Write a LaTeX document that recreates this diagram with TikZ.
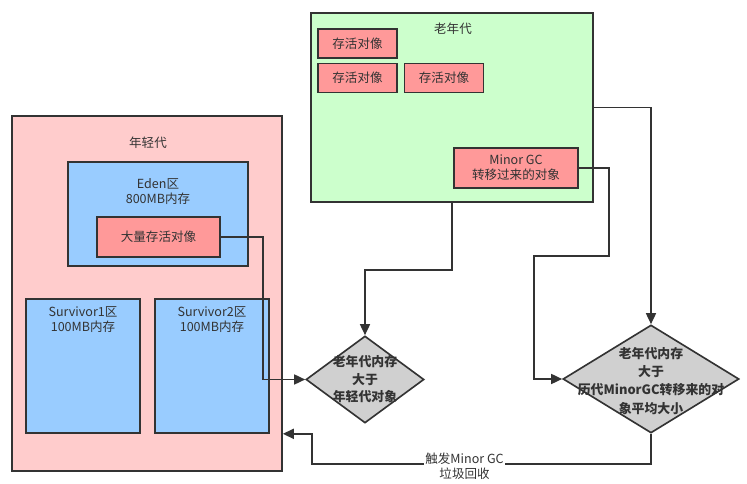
\documentclass[tikz,border=0pt]{standalone}
\usepackage{fontspec}
\setmainfont{Noto Sans CJK SC}
\usetikzlibrary{arrows.meta,shapes.geometric}

\definecolor{youngbg}{HTML}{FFCCCC}
\definecolor{oldbg}{HTML}{CCFFCC}
\definecolor{areabg}{HTML}{99CCFF}
\definecolor{objbg}{HTML}{FF9999}
\definecolor{testbg}{HTML}{D0D0D0}
\definecolor{ink}{HTML}{333333}

\begin{document}
\begin{tikzpicture}[x=0.03cm,y=-0.03cm,
        every node/.style={font=\fontsize{10.7}{12.8}\selectfont,text=ink},
        box/.style={draw=ink,line width=1.4pt,inner sep=0pt},
        test/.style={box,diamond,fill=testbg},
        txt/.style={align=center,inner sep=1pt},
        arr/.style={draw=ink,line width=1.4pt,-{Triangle[length=3.3mm,width=3mm]}}]
    \useasboundingbox (0,0) rectangle (747,484);
        \begin{scope}
            % young generation
            \node[box,fill=youngbg,minimum width=8.1cm,minimum height=10.65cm] (young) at (147,293.5) {};
            \node[txt] (youngtitle) at (148,143) {年轻代};
            \node[box,fill=areabg,minimum width=5.4cm,minimum height=3.12cm] (eden) at (158,214) {};
            \node[txt] (edentitle) at (158,191.5) {Eden区\\800MB内存};
            \node[box,fill=objbg,minimum width=3.69cm,minimum height=1.2cm] (big) at (158.5,237) {大量存活对像};
            \node[box,fill=areabg,minimum width=3.42cm,minimum height=4.02cm] (survA) at (83,366) {};
            \node[txt] (survAtitle) at (83,320) {Survivor1区\\100MB内存};
            \node[box,fill=areabg,minimum width=3.42cm,minimum height=4.02cm] (survB) at (212,366) {};
            \node[txt] (survBtitle) at (212,320) {Survivor2区\\100MB内存};
        \end{scope}
        \begin{scope}
            % old generation
            \node[box,fill=oldbg,minimum width=8.46cm,minimum height=5.67cm] (old) at (452,107.5) {};
            \node[txt] (oldtitle) at (453,29) {老年代};
            \node[box,fill=objbg,minimum width=2.37cm,minimum height=0.87cm] (liveA) at (357.5,43.5) {存活对像};
            \node[box,fill=objbg,minimum width=2.37cm,minimum height=0.87cm] (liveB) at (357.5,78) {存活对像};
            \node[box,fill=objbg,minimum width=2.37cm,minimum height=0.87cm] (liveC) at (444,78) {存活对像};
            \node[box,fill=objbg,minimum width=3.72cm,minimum height=1.2cm,align=center] (minor) at (516,168) {Minor GC\\转移过来的对象};
        \end{scope}
        \begin{scope}
            % checks
            \node[test,minimum width=3.54cm,minimum height=2.61cm] (testA) at (365,379.5) {};
            \node[txt,font=\fontsize{11}{15}\selectfont\bfseries] (testAtext) at (testA) {老年代内存\\大于\\年轻代对象};
            \node[test,minimum width=5.28cm,minimum height=3.24cm] (testB) at (651,379) {};
            \node[txt,font=\fontsize{11}{15.5}\selectfont\bfseries] (testBtext) at (651,381) {老年代内存\\大于\\历代MinorGC转移来的对\\象平均大小};
        \end{scope}
        \draw[arr] (big.east) -- ++(42,0) |- (testA.west);
        \draw[arr] (old.south) -- ++(0,67) -| (testA.north);
        \draw[arr] (old.east) -| (testB.north);
        \draw[arr] (minor.east) -- ++(30,0) -- ++(0,88) -- ++(-75,0) |- (testB.west);
        \draw[arr] (testB.south) -- ++(0,30)
            -- node[txt,fill=white,pos=0.55,yshift=-0.08cm] (gc) {触发Minor GC\\垃圾回收} ++(-339,0)
            |- (young.east |- testB.south);
    \end{tikzpicture}
\end{document}
